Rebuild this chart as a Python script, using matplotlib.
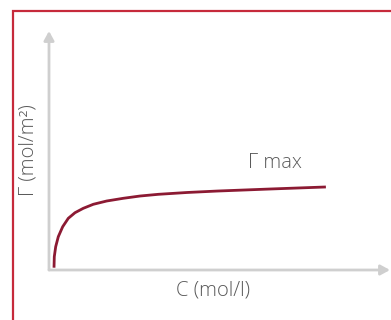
import matplotlib
matplotlib.use("Agg")

import matplotlib.pyplot as plt
from matplotlib.patches import Rectangle

# isoterma de adsorción (esquema): concentración C vs. exceso superficial Γ
conc = [0.179, 0.189, 0.239, 0.332, 0.489, 0.689, 0.929, 1.225, 1.582, 2.06, 2.654,
        3.25, 3.904, 4.93, 6.0, 7.89, 9.89]
gamma = [0.096, 0.554, 0.971, 1.388, 1.804, 2.154, 2.388, 2.571, 2.738, 2.875, 2.988,
         3.083, 3.154, 3.23, 3.29, 3.375, 3.46]

xlabel = "C (mol/l)"
ylabel = "Γ (mol/m²)"
etiqueta_max = "Γ max"

W, H = 391, 320
fig = plt.figure(figsize=(W / 100, H / 100), dpi=100)
fig.patch.set_facecolor("white")

ax = fig.add_axes([49 / W, (H - 270) / H, (390 - 49) / W, (270 - 31) / H])
ax.set_xlim(0, 12.18)
ax.set_ylim(0, 9.96)
ax.axis("off")

# ejes con flecha
gris = "#cfcfcf"
for tip in [(1, 0), (0, 1)]:
    ax.annotate("", xy=tip, xytext=(0, 0), xycoords="axes fraction",
                arrowprops=dict(arrowstyle="-|>,head_length=0.55,head_width=0.3",
                                color=gris, lw=2, shrinkA=0, shrinkB=0))

ax.plot(conc, gamma, color="#8c1a33", lw=2, solid_capstyle="butt",
        solid_joinstyle="round", clip_on=False)

fuente = dict(family="Open Sans", weight="light", color="#5a5a5a", fontsize=14.5)
ax.text(7.1, 4.45, etiqueta_max, ha="left", va="center", **fuente)
fig.text(213 / W, 1 - 290 / H, xlabel, ha="center", va="center", **fuente)
fig.text(28 / W, 1 - 150 / H, ylabel, ha="center", va="center", rotation=90, **fuente)

# marco rojo
fig.patches.append(Rectangle((13 / W, -0.1), 1.2, 1 - 10.5 / H + 0.1, transform=fig.transFigure,
                             fill=False, edgecolor="#c62a3b", lw=1.6, clip_on=False))

fig.savefig("out.png", dpi=100)
